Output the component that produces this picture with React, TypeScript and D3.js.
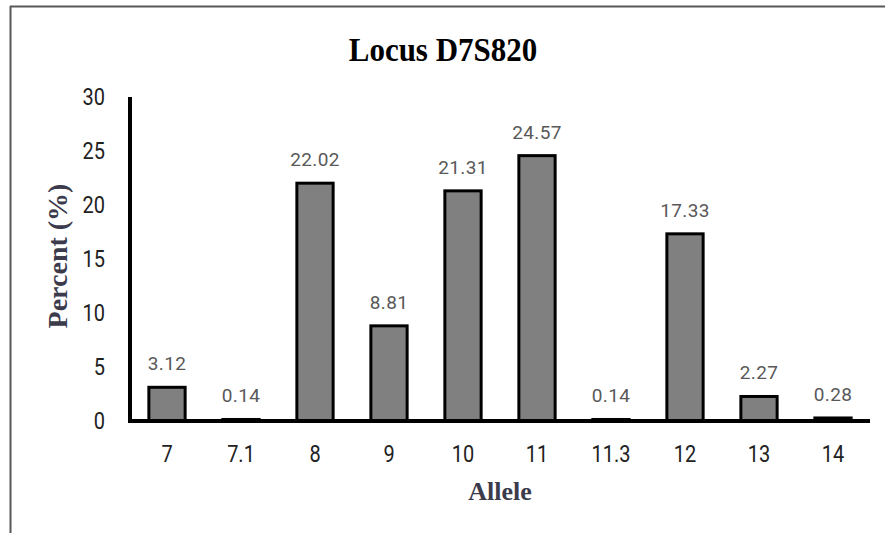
import React from "react";
import * as d3 from "d3";

const categories = ["7", "7.1", "8", "9", "10", "11", "11.3", "12", "13", "14"];
const values = [3.12, 0.14, 22.02, 8.81, 21.31, 24.57, 0.14, 17.33, 2.27, 0.28];
const yTicks = [0, 5, 10, 15, 20, 25, 30];
const title = "Locus D7S820";
const xTitle = "Allele";
const yTitle = "Percent (%)";

const W = 885;
const H = 533;
const serif = "'Liberation Serif', 'Times New Roman', serif";
const sans = "Roboto, sans-serif";

export default function App() {
  const x = d3
    .scaleBand<string>()
    .domain(categories)
    .range([130, 870])
    .paddingInner(0.51)
    .paddingOuter(0.255);
  const y = d3.scaleLinear().domain([0, 30]).range([421, 97]);

  return (
    <svg
      width={W}
      height={H}
      style={{ position: "fixed", left: 0, top: 0, background: "#fff" }}
    >
      {/* frame */}
      <line x1={10.5} y1={6} x2={10.5} y2={H} stroke="#595959" strokeWidth={2} />
      <line x1={10} y1={6.5} x2={W} y2={6.5} stroke="#595959" strokeWidth={2} />

      <text
        transform="translate(443, 61) scale(1, 1.12)"
        textAnchor="middle"
        fontFamily={serif}
        fontWeight="bold"
        fontSize={31}
        fill="#000"
      >
        {title}
      </text>

      {/* bars */}
      {categories.map((c, i) => {
        const v = values[i];
        const bx = x(c)!;
        const by = y(v);
        const cx = bx + x.bandwidth() / 2;
        return (
          <g key={c}>
            <rect
              x={bx}
              y={by}
              width={x.bandwidth()}
              height={y(0) - by}
              fill="#808080"
              stroke="#000"
              strokeWidth={3}
            />
            <text
              x={cx}
              y={by - 17}
              textAnchor="middle"
              fontFamily={sans}
              fontSize={19}
              letterSpacing={0.4}
              fill="#595959"
            >
              {v.toFixed(2)}
            </text>
            <text
              transform={`translate(${cx}, 462) scale(1, 1.2)`}
              textAnchor="middle"
              fontFamily={sans}
              fontSize={20}
              fill="#222"
            >
              {c}
            </text>
          </g>
        );
      })}

      {/* y ticks */}
      {yTicks.map((t) => (
        <text
          key={t}
          transform={`translate(105, ${y(t) + 8}) scale(1, 1.2)`}
          textAnchor="end"
          fontFamily={sans}
          fontSize={20}
          fill="#222"
        >
          {t}
        </text>
      ))}

      {/* axes */}
      <line x1={130} y1={97} x2={130} y2={423} stroke="#000" strokeWidth={4} />
      <line x1={128} y1={421} x2={870} y2={421} stroke="#000" strokeWidth={4} />

      <text
        x={500}
        y={500}
        textAnchor="middle"
        fontFamily={serif}
        fontWeight="bold"
        fontSize={26}
        fill="#3b3b4b"
      >
        {xTitle}
      </text>
      <text
        transform={`translate(67, 256) rotate(-90)`}
        textAnchor="middle"
        fontFamily={serif}
        fontWeight="bold"
        fontSize={28}
        fill="#3b3b4b"
      >
        {yTitle}
      </text>
    </svg>
  );
}
